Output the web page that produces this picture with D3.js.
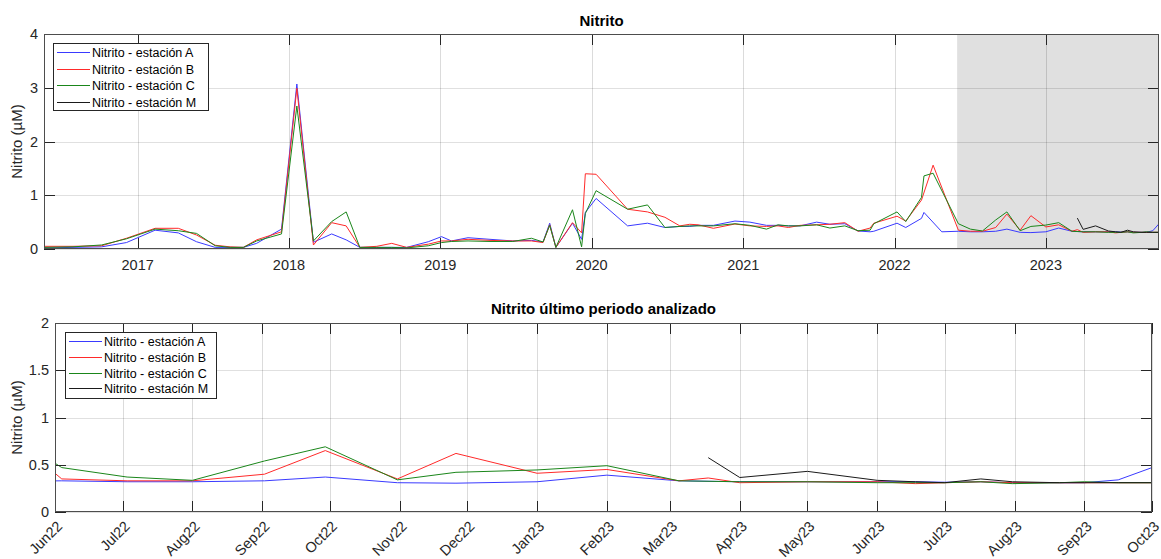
<!DOCTYPE html>
<html>
<head>
<meta charset="utf-8">
<script src="https://cdn.jsdelivr.net/npm/d3@7"></script>
<style>
  html, body { margin: 0; padding: 0; background: #ffffff; }
  svg { display: block; font-family: "Liberation Sans", Arial, Helvetica, sans-serif; }
</style>
</head>
<body>
<svg id="chart" width="1161" height="559"></svg>
<script>
// ---------------- DATA ----------------
const sampleDates = [
  "2016-05-20","2016-07-29","2016-10-06","2016-12-05","2017-02-12","2017-04-09","2017-05-23","2017-07-07",
  "2017-08-12","2017-09-13","2017-10-15","2017-12-14","2018-01-20","2018-03-01","2018-04-14","2018-05-19",
  "2018-06-21","2018-08-01","2018-09-06","2018-10-12","2018-12-03","2019-01-04","2019-01-28","2019-03-09",
  "2019-05-01","2019-06-25","2019-08-09","2019-09-06","2019-09-22","2019-10-07","2019-11-16","2019-12-08",
  "2019-12-17","2020-01-12","2020-03-28","2020-05-15","2020-06-26","2020-08-01","2020-08-25","2020-09-14",
  "2020-10-21","2020-12-12","2021-01-17","2021-02-26","2021-03-26","2021-04-20","2021-05-18","2021-06-27",
  "2021-07-29","2021-09-03","2021-10-05","2021-11-03","2021-11-12","2022-01-07","2022-01-28","2022-03-07",
  "2022-03-13","2022-04-04","2022-04-25","2022-06-04","2022-07-03","2022-08-01","2022-09-02","2022-09-29",
  "2022-10-31","2022-11-26","2023-01-01","2023-02-01","2023-03-05","2023-03-18","2023-04-01","2023-05-01",
  "2023-06-01","2023-06-18","2023-07-01","2023-07-17","2023-07-31","2023-08-21","2023-09-01","2023-09-16",
  "2023-10-01"
];
const nitritoA = [
  0.02,0.03,0.04,0.12,0.35,0.30,0.135,0.03,
  0.03,0.03,0.105,0.37,3.07,0.125,0.28,0.17,
  0.03,0.03,0.03,0.03,0.135,0.23,0.15,0.21,
  0.18,0.15,0.16,0.13,0.48,0.03,0.48,0.18,
  0.68,0.94,0.43,0.48,0.40,0.42,0.42,0.44,
  0.44,0.52,0.50,0.44,0.44,0.43,0.43,0.50,
  0.46,0.47,0.335,0.32,0.33,0.48,0.40,0.57,
  0.68,null,0.32,0.33,0.32,0.32,0.33,0.37,
  0.31,0.305,0.32,0.39,0.33,null,0.32,0.32,
  0.32,0.32,0.315,0.32,0.31,0.31,0.31,0.34,
  0.47
];
const nitritoB = [
  0.05,0.05,0.06,0.20,0.385,0.385,0.26,0.07,
  0.04,0.03,0.17,0.32,2.99,0.074,0.49,0.43,
  0.03,0.05,0.105,0.03,0.09,0.15,0.15,0.18,
  0.16,0.15,0.15,0.12,0.45,0.03,0.49,0.30,
  1.40,1.39,0.74,0.69,0.59,0.43,0.46,0.45,
  0.385,0.465,0.43,0.42,0.43,0.40,0.44,0.45,
  0.46,0.49,0.33,0.39,0.48,0.61,0.52,0.91,
  null,1.56,null,0.35,0.33,0.33,0.40,0.65,
  0.35,0.62,0.41,0.45,0.33,0.36,0.31,0.32,
  0.32,0.30,0.31,0.32,0.31,0.31,0.31,0.31,
  0.31
];
const nitritoC = [
  0.03,0.04,0.075,0.19,0.37,0.34,0.29,0.06,
  0.03,0.03,0.15,0.28,2.66,0.15,0.51,0.69,
  0.03,0.03,0.03,0.02,0.06,0.12,0.14,0.15,
  0.14,0.14,0.20,0.13,0.44,0.03,0.73,0.04,
  0.66,1.085,0.74,0.82,0.40,0.42,0.43,0.43,
  0.43,0.47,0.44,0.37,0.45,0.43,0.43,0.45,
  0.39,0.43,0.34,0.35,0.47,0.69,0.51,0.96,
  1.36,1.41,null,0.47,0.37,0.335,0.54,0.69,
  0.34,0.42,0.445,0.49,0.33,null,0.32,0.32,
  0.31,0.31,0.31,0.32,0.30,0.31,0.32,0.31,
  0.31
];
const nitritoM = [
  null,null,null,null,null,null,null,null,
  null,null,null,null,null,null,null,null,
  null,null,null,null,null,null,null,null,
  null,null,null,null,null,null,null,null,
  null,null,null,null,null,null,null,null,
  null,null,null,null,null,null,null,null,
  null,null,null,null,null,null,null,null,
  null,null,null,null,null,null,null,null,
  null,null,null,null,null,0.575,0.365,0.43,
  0.335,0.32,0.31,0.35,0.32,0.31,0.31,0.31,
  0.31
];
const seriesNames = ["Nitrito - estación A","Nitrito - estación B","Nitrito - estación C","Nitrito - estación M"];
const seriesColors = ["#3a3aff","#ff2a2a","#1a861a","#1a1a1a"];
const topTitle = "Nitrito";
const bottomTitle = "Nitrito último periodo analizado";
const yLabel = "Nitrito (µM)";
const topRange = ["2016-05-20","2023-10-01"];
const recentRange = ["2022-06-01","2023-10-01"];
const topYTicks = [0,1,2,3,4];
const bottomYTicks = [0,0.5,1,1.5,2];

// ---------------- DRAW ----------------
const parse = d3.utcParse("%Y-%m-%d");
const dates = sampleDates.map(parse);
const allSeries = [nitritoA, nitritoB, nitritoC, nitritoM].map((vals, k) => ({
  name: seriesNames[k], color: seriesColors[k],
  pts: dates.map((d, i) => ({d, v: vals[i]})).filter(p => p.v !== null)
}));

const svg = d3.select("#chart");
const axisColor = "#262626";

function panel(cfg) {
  const x = d3.scaleUtc().domain(cfg.xDomain.map(parse)).range([cfg.left, cfg.right]);
  const y = d3.scaleLinear().domain([cfg.yTicks[0], cfg.yTicks[cfg.yTicks.length-1]]).range([cfg.bottom, cfg.top]);
  const g = svg.append("g");
  const clipId = "clip" + cfg.id;
  svg.append("clipPath").attr("id", clipId).append("rect")
    .attr("x", cfg.left).attr("y", cfg.top).attr("width", cfg.right - cfg.left).attr("height", cfg.bottom - cfg.top);

  // shaded period
  if (cfg.shade) {
    const x0 = x(parse(cfg.shade[0])), x1 = x(parse(cfg.shade[1]));
    g.append("rect").attr("x", x0).attr("y", cfg.top).attr("width", x1 - x0).attr("height", cfg.bottom - cfg.top)
      .attr("fill", "#e0e0e0");
  }
  const xticks = cfg.xTicks(x);
  // grid
  g.selectAll(".gx").data(xticks).enter().append("line")
    .attr("x1", d => Math.round(x(d)) + 0.5).attr("x2", d => Math.round(x(d)) + 0.5)
    .attr("y1", cfg.top).attr("y2", cfg.bottom).attr("stroke", "rgba(0,0,0,0.14)");
  g.selectAll(".gy").data(cfg.yTicks).enter().append("line")
    .attr("x1", cfg.left).attr("x2", cfg.right)
    .attr("y1", d => Math.round(y(d)) + 0.5).attr("y2", d => Math.round(y(d)) + 0.5).attr("stroke", "rgba(0,0,0,0.12)");

  // lines
  const line = d3.line().x(p => x(p.d)).y(p => y(p.v));
  const lg = g.append("g").attr("clip-path", `url(#${clipId})`);
  allSeries.forEach(s => {
    lg.append("path").attr("d", line(s.pts)).attr("fill", "none")
      .attr("stroke", s.color).attr("stroke-width", 1);
  });

  // tick marks (inside, both sides)
  const tl = 11;
  xticks.forEach(d => {
    const xx = Math.round(x(d)) + 0.5;
    g.append("line").attr("x1", xx).attr("x2", xx).attr("y1", cfg.bottom).attr("y2", cfg.bottom - tl).attr("stroke", axisColor);
    g.append("line").attr("x1", xx).attr("x2", xx).attr("y1", cfg.top).attr("y2", cfg.top + tl).attr("stroke", axisColor);
  });
  cfg.yTicks.forEach(d => {
    const yy = Math.round(y(d)) + 0.5;
    g.append("line").attr("x1", cfg.left).attr("x2", cfg.left + tl).attr("y1", yy).attr("y2", yy).attr("stroke", axisColor);
    g.append("line").attr("x1", cfg.right - tl).attr("x2", cfg.right).attr("y1", yy).attr("y2", yy).attr("stroke", axisColor);
  });
  // box
  g.append("rect").attr("x", cfg.left + 0.5).attr("y", cfg.top + 0.5)
    .attr("width", cfg.right - cfg.left - 1).attr("height", cfg.bottom - cfg.top - 1)
    .attr("fill", "none").attr("stroke", "#4d4d4d").attr("stroke-width", 1);

  // y tick labels
  g.selectAll(".yl").data(cfg.yTicks).enter().append("text")
    .attr("x", cfg.left - 6).attr("y", d => y(d)).attr("dy", "0.36em")
    .attr("text-anchor", "end").attr("font-size", 14.5).attr("fill", axisColor)
    .text(d => cfg.yFormat(d));
  // x tick labels
  if (cfg.rotate) {
    g.selectAll(".xl").data(xticks).enter().append("text")
      .attr("transform", d => `translate(${x(d) + 1},${cfg.bottom + 8}) rotate(-45)`)
      .attr("text-anchor", "end").attr("dy", "0.7em").attr("font-size", 14.5).attr("fill", axisColor)
      .text(d => cfg.xFormat(d));
  } else {
    g.selectAll(".xl").data(xticks).enter().append("text")
      .attr("x", d => x(d)).attr("y", cfg.bottom + 21)
      .attr("text-anchor", "middle").attr("font-size", 14.5).attr("fill", axisColor)
      .text(d => cfg.xFormat(d));
  }
  // y label
  g.append("text").attr("transform", `translate(22,${(cfg.top + cfg.bottom) / 2}) rotate(-90)`)
    .attr("text-anchor", "middle").attr("font-size", 15).attr("fill", axisColor).text(yLabel);
  // title
  g.append("text").attr("x", (cfg.left + cfg.right) / 2).attr("y", cfg.titleY)
    .attr("text-anchor", "middle").attr("font-size", 15).attr("font-weight", "bold").attr("fill", "#000")
    .text(cfg.title);

  // legend
  const L = cfg.legend;
  const lgd = g.append("g");
  lgd.append("rect").attr("x", L.x + 0.5).attr("y", L.y + 0.5).attr("width", L.w).attr("height", L.h)
    .attr("fill", "#fff").attr("stroke", axisColor).attr("stroke-width", 1);
  allSeries.forEach((s, i) => {
    const yy = Math.round(L.y + 9 + i * L.step) + 0.5;
    lgd.append("line").attr("x1", L.x + 4).attr("x2", L.x + 37).attr("y1", yy).attr("y2", yy)
      .attr("stroke", s.color).attr("stroke-width", 1);
    lgd.append("text").attr("x", L.x + 39).attr("y", yy).attr("dy", "0.35em")
      .attr("font-size", 12.5).attr("fill", "#000").text(s.name);
  });
}

panel({
  id: "top", left: 44, right: 1159, top: 34, bottom: 249,
  xDomain: topRange, yTicks: topYTicks, shade: recentRange,
  xTicks: x => x.ticks(d3.utcYear.every(1)),
  xFormat: d3.utcFormat("%Y"), yFormat: d => d3.format("d")(d),
  title: topTitle, titleY: 26,
  legend: {x: 53, y: 43, w: 155, h: 67, step: 16.6},
  rotate: false
});

panel({
  id: "bottom", left: 55, right: 1152, top: 323, bottom: 512,
  xDomain: recentRange, yTicks: bottomYTicks, shade: null,
  xTicks: x => x.ticks(d3.utcMonth.every(1)),
  xFormat: d3.utcFormat("%b%y"), yFormat: d => String(d),
  title: bottomTitle, titleY: 314,
  legend: {x: 65, y: 332, w: 151, h: 66, step: 15.8},
  rotate: true
});
</script>
</body>
</html>
